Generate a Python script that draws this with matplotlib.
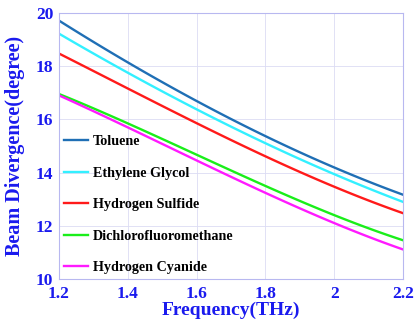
import matplotlib
matplotlib.use("Agg")
import matplotlib.pyplot as plt
import numpy as np

freq = [1.2, 1.4, 1.6, 1.8, 2.0, 2.2]
toluene = [19.69, 18.22, 16.62, 15.36, 14.24, 13.15]
ethylene_glycol = [19.21, 17.80, 16.33, 15.11, 13.96, 12.89]
hydrogen_sulfide = [18.47, 17.18, 15.84, 14.61, 13.48, 12.47]
dichlorofluoromethane = [16.95, 15.86, 14.67, 13.48, 12.42, 11.45]
hydrogen_cyanide = [16.89, 15.74, 14.42, 13.23, 12.13, 11.10]

labels = ["Toluene", "Ethylene Glycol", "Hydrogen Sulfide",
          "Dichlorofluoromethane", "Hydrogen Cyanide"]
colors = ["#1f6fb5", "#33f0ff", "#ff1a1a", "#1aee1a", "#ff1aff"]
series = [toluene, ethylene_glycol, hydrogen_sulfide,
          dichlorofluoromethane, hydrogen_cyanide]

plt.rcParams['font.family'] = ['Liberation Serif', 'DejaVu Serif']
plt.rcParams['font.weight'] = 'bold'

fig = plt.figure(figsize=(4.18, 3.24), dpi=100)
ax = fig.add_axes([0.141, 0.139, 0.823, 0.821])

xs = np.linspace(1.2, 2.2, 101)
for ys, lab, c in zip(series, labels, colors):
    coef = np.polyfit(freq, ys, 3)
    ax.plot(xs, np.polyval(coef, xs), color=c, lw=1.7, label=lab)

ax.set_xlim(1.2, 2.2)
ax.set_ylim(10, 20)
ax.set_xticks([1.2, 1.4, 1.6, 1.8, 2.0, 2.2])
ax.set_xticklabels(["1.2", "1.4", "1.6", "1.8", "2", "2.2"])
ax.set_yticks([10, 12, 14, 16, 18, 20])

blue = "#1a1aee"
ax.tick_params(axis='both', colors="#b0b0f0", labelcolor=blue, labelsize=12.5,
               length=0)
ax.tick_params(axis='x', pad=5)
ax.tick_params(axis='y', pad=4)
for lbl in ax.get_xticklabels() + ax.get_yticklabels():
    lbl.set_fontweight('bold')
for s in ax.spines.values():
    s.set_color("#b8b8f0")
    s.set_linewidth(0.8)
ax.grid(True, color="#dcdcf4", lw=0.6)
ax.set_axisbelow(True)

ax.set_xlabel("Frequency(THz)", color=blue, fontsize=14, fontweight='bold')
ax.xaxis.set_label_coords(0.5, -0.087)
ax.set_ylabel("Beam Divergence(degree)", color=blue, fontsize=14.5, fontweight='bold')
ax.yaxis.set_label_coords(-0.1, 0.5)

leg = ax.legend(loc='lower left', frameon=False,
                labelspacing=1.3, handlelength=1.7, handletextpad=0.35,
                borderaxespad=0.15, borderpad=0.2,
                prop={'weight': 'bold', 'size': 10.2})
for t in leg.get_texts():
    t.set_color("black")

fig.savefig("out.png", dpi=100)
